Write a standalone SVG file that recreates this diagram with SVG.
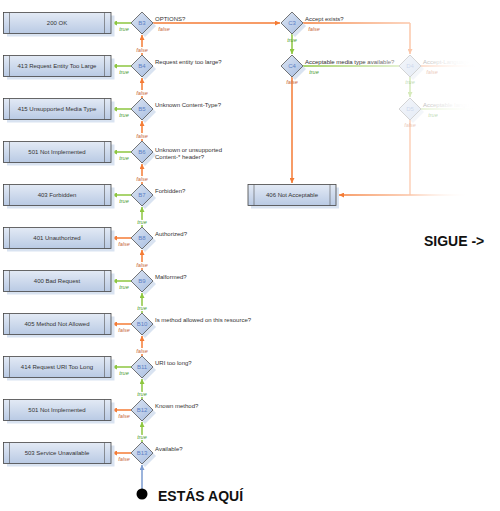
<svg xmlns="http://www.w3.org/2000/svg" width="500" height="511" viewBox="0 0 500 511">
<defs>
<style>
.bx{fill:url(#boxg);stroke:#444;stroke-width:0.8}
.sh{fill:#d9e3f1}
.in{stroke:#555;stroke-width:0.6}
.dm{fill:url(#dmg);stroke:#555;stroke-width:0.8}
.bt{font-family:"Liberation Sans",Arial,sans-serif;font-size:6px;fill:#333;text-anchor:middle}
.q{font-family:"Liberation Sans",Arial,sans-serif;font-size:6px;fill:#333}
.id{font-family:"Liberation Sans",Arial,sans-serif;font-size:6px;fill:#5b7fc4;text-anchor:middle}
.t{font-family:"Liberation Sans",Arial,sans-serif;font-style:italic;font-size:5.5px;fill:#4a9a2a;text-anchor:middle}
.f{font-family:"Liberation Sans",Arial,sans-serif;font-style:italic;font-size:5.5px;fill:#c8693a;text-anchor:middle}
.h{paint-order:stroke;stroke:#fff;stroke-width:2}
.g{stroke:#8dc63f;stroke-width:1.5;fill:none}
.o{stroke:#f47b35;stroke-width:1.5;fill:none}
.big{font-family:"Liberation Sans",Arial,sans-serif;font-weight:bold;font-size:14px;fill:#111}
</style>
<linearGradient id="boxg" x1="0" y1="0" x2="0" y2="1">
<stop offset="0" stop-color="#e3eaf5"/><stop offset="1" stop-color="#b9cae4"/>
</linearGradient>
<linearGradient id="dmg" x1="0" y1="0" x2="1" y2="1">
<stop offset="0" stop-color="#dde6f4"/><stop offset="1" stop-color="#a6bce0"/>
</linearGradient>
<linearGradient id="oC3" gradientUnits="userSpaceOnUse" x1="303" y1="0" x2="410" y2="0">
<stop offset="0" stop-color="#f47b35"/><stop offset="1" stop-color="#fbc7aa"/>
</linearGradient>
<linearGradient id="gC4" gradientUnits="userSpaceOnUse" x1="303" y1="0" x2="400" y2="0">
<stop offset="0" stop-color="#8dc63f"/><stop offset="1" stop-color="#dcedc4"/>
</linearGradient>
<linearGradient id="oFade" gradientUnits="userSpaceOnUse" x1="420" y1="0" x2="480" y2="0">
<stop offset="0" stop-color="#fcd3bd"/><stop offset="1" stop-color="#fff" stop-opacity="0"/>
</linearGradient>
<linearGradient id="gFade" gradientUnits="userSpaceOnUse" x1="420" y1="0" x2="480" y2="0">
<stop offset="0" stop-color="#e1f0cd"/><stop offset="1" stop-color="#fff" stop-opacity="0"/>
</linearGradient>
<linearGradient id="o406" gradientUnits="userSpaceOnUse" x1="337" y1="0" x2="470" y2="0">
<stop offset="0" stop-color="#f47b35"/><stop offset="0.55" stop-color="#fbc4a6"/><stop offset="1" stop-color="#fff" stop-opacity="0"/>
</linearGradient>
<linearGradient id="txtFade" gradientUnits="userSpaceOnUse" x1="423" y1="0" x2="475" y2="0">
<stop offset="0" stop-color="#bbb"/><stop offset="1" stop-color="#fff" stop-opacity="0"/>
</linearGradient>
<linearGradient id="txtC4" gradientUnits="userSpaceOnUse" x1="355" y1="0" x2="400" y2="0">
<stop offset="0" stop-color="#333"/><stop offset="1" stop-color="#999"/>
</linearGradient>
<marker id="ag" viewBox="0 0 8 8" refX="8" refY="4" markerWidth="5" markerHeight="5" markerUnits="userSpaceOnUse" orient="auto"><path d="M0,0L8,4L0,8z" fill="#8dc63f"/></marker>
<marker id="ao" viewBox="0 0 8 8" refX="8" refY="4" markerWidth="5" markerHeight="5" markerUnits="userSpaceOnUse" orient="auto"><path d="M0,0L8,4L0,8z" fill="#f47b35"/></marker>
<marker id="ab" viewBox="0 0 8 8" refX="8" refY="4" markerWidth="5" markerHeight="5" markerUnits="userSpaceOnUse" orient="auto"><path d="M0,0L8,4L0,8z" fill="#7b9bd1"/></marker>
<marker id="aop" viewBox="0 0 8 8" refX="8" refY="4" markerWidth="5" markerHeight="5" markerUnits="userSpaceOnUse" orient="auto"><path d="M0,0L8,4L0,8z" fill="#fbc7aa"/></marker>
<marker id="agp" viewBox="0 0 8 8" refX="8" refY="4" markerWidth="5" markerHeight="5" markerUnits="userSpaceOnUse" orient="auto"><path d="M0,0L8,4L0,8z" fill="#d6eabb"/></marker>
</defs>
<rect width="500" height="511" fill="#fff"/>

<g id="connectors">
<line class="g" x1="131" y1="23" x2="112" y2="23" marker-end="url(#ag)"/>
<line class="g" x1="131" y1="66" x2="112" y2="66" marker-end="url(#ag)"/>
<line class="g" x1="131" y1="109" x2="112" y2="109" marker-end="url(#ag)"/>
<line class="g" x1="131" y1="152" x2="112" y2="152" marker-end="url(#ag)"/>
<line class="g" x1="131" y1="195" x2="112" y2="195" marker-end="url(#ag)"/>
<line class="o" x1="131" y1="238" x2="112" y2="238" marker-end="url(#ao)"/>
<line class="g" x1="131" y1="281" x2="112" y2="281" marker-end="url(#ag)"/>
<line class="o" x1="131" y1="324" x2="112" y2="324" marker-end="url(#ao)"/>
<line class="g" x1="131" y1="367" x2="112" y2="367" marker-end="url(#ag)"/>
<line class="o" x1="131" y1="410" x2="112" y2="410" marker-end="url(#ao)"/>
<line class="o" x1="131" y1="453" x2="112" y2="453" marker-end="url(#ao)"/>
<line class="o" x1="142" y1="55" x2="142" y2="35" marker-end="url(#ao)"/>
<line class="o" x1="142" y1="98" x2="142" y2="78" marker-end="url(#ao)"/>
<line class="o" x1="142" y1="141" x2="142" y2="121" marker-end="url(#ao)"/>
<line class="o" x1="142" y1="184" x2="142" y2="164" marker-end="url(#ao)"/>
<line class="g" x1="142" y1="227" x2="142" y2="207" marker-end="url(#ag)"/>
<line class="o" x1="142" y1="270" x2="142" y2="250" marker-end="url(#ao)"/>
<line class="g" x1="142" y1="313" x2="142" y2="293" marker-end="url(#ag)"/>
<line class="o" x1="142" y1="356" x2="142" y2="336" marker-end="url(#ao)"/>
<line class="g" x1="142" y1="399" x2="142" y2="379" marker-end="url(#ag)"/>
<line class="g" x1="142" y1="442" x2="142" y2="422" marker-end="url(#ag)"/>
<line x1="142" y1="489" x2="142" y2="465" stroke="#7b9bd1" stroke-width="1.5" marker-end="url(#ab)"/>
<line class="o" x1="153" y1="23" x2="280" y2="23" marker-end="url(#ao)"/>
<line class="g" x1="292" y1="34" x2="292" y2="54" marker-end="url(#ag)"/>
<line class="o" x1="292" y1="77" x2="292" y2="183" marker-end="url(#ao)"/>
<path d="M303,23H410" stroke="url(#oC3)" stroke-width="1.5" fill="none"/>
<line x1="410" y1="23" x2="410" y2="54" stroke="#fbc7aa" stroke-width="1.5" marker-end="url(#aop)"/>
<path d="M303,66H399" stroke="url(#gC4)" stroke-width="1.5" fill="none"/>
<path d="M421,66H480" stroke="url(#oFade)" stroke-width="1.5" fill="none"/>
<line x1="410" y1="77" x2="410" y2="97" stroke="#d6eabb" stroke-width="1.5" marker-end="url(#agp)"/>
<path d="M421,109H480" stroke="url(#gFade)" stroke-width="1.5" fill="none"/>
<path d="M410,120V195" stroke="#fcd0b8" stroke-width="1.5" fill="none"/>
<path d="M470,195H339" stroke="url(#o406)" stroke-width="1.5" fill="none" marker-end="url(#ao)"/>
</g>

<g id="labels">
<text class="t" x="124" y="30.5">true</text>
<text class="t" x="124" y="73.5">true</text>
<text class="t" x="124" y="116.5">true</text>
<text class="t" x="124" y="159.5">true</text>
<text class="t" x="124" y="202.5">true</text>
<text class="f" x="124" y="245.5">false</text>
<text class="t" x="124" y="288.5">true</text>
<text class="f" x="124" y="331.5">false</text>
<text class="t" x="124" y="374.5">true</text>
<text class="f" x="124" y="417.5">false</text>
<text class="f" x="124" y="460.5">false</text>
<text class="f h" x="142" y="52">false</text>
<text class="f h" x="142" y="95">false</text>
<text class="f h" x="142" y="138">false</text>
<text class="f h" x="142" y="181">false</text>
<text class="t h" x="142" y="224">true</text>
<text class="f h" x="142" y="267">false</text>
<text class="t h" x="142" y="310">true</text>
<text class="f h" x="142" y="353">false</text>
<text class="t h" x="142" y="396">true</text>
<text class="t h" x="142" y="439">true</text>
<text class="f" x="164" y="30.5">false</text>
<text class="f" x="314" y="30.5">false</text>
<text class="t" x="292" y="41.5">true</text>
<text class="t" x="314" y="73.5">true</text>
<text class="f" x="292" y="84">false</text>
<g opacity="0.35">
<text class="f" x="432" y="73.5">false</text>
<text class="t" x="410" y="84">true</text>
<text class="t" x="433" y="116.5">true</text>
<text class="f" x="410" y="127">false</text>
</g>
</g>

<g id="n200"><rect class="sh" x="7" y="15.5" width="107.5" height="21"/><rect class="bx" x="3.5" y="12.5" width="107.5" height="21"/><line class="in" x1="9.5" y1="12.5" x2="9.5" y2="33.5"/><line class="in" x1="104.5" y1="12.5" x2="104.5" y2="33.5"/><text class="bt" x="57" y="25">200 OK</text></g>
<g id="n413"><rect class="sh" x="7" y="58.5" width="107.5" height="21"/><rect class="bx" x="3.5" y="55.5" width="107.5" height="21"/><line class="in" x1="9.5" y1="55.5" x2="9.5" y2="76.5"/><line class="in" x1="104.5" y1="55.5" x2="104.5" y2="76.5"/><text class="bt" x="57" y="68">413 Request Entity Too Large</text></g>
<g id="n415"><rect class="sh" x="7" y="101.5" width="107.5" height="21"/><rect class="bx" x="3.5" y="98.5" width="107.5" height="21"/><line class="in" x1="9.5" y1="98.5" x2="9.5" y2="119.5"/><line class="in" x1="104.5" y1="98.5" x2="104.5" y2="119.5"/><text class="bt" x="57" y="111">415 Unsupported Media Type</text></g>
<g id="n501a"><rect class="sh" x="7" y="144.5" width="107.5" height="21"/><rect class="bx" x="3.5" y="141.5" width="107.5" height="21"/><line class="in" x1="9.5" y1="141.5" x2="9.5" y2="162.5"/><line class="in" x1="104.5" y1="141.5" x2="104.5" y2="162.5"/><text class="bt" x="57" y="154">501 Not Implemented</text></g>
<g id="n403"><rect class="sh" x="7" y="187.5" width="107.5" height="21"/><rect class="bx" x="3.5" y="184.5" width="107.5" height="21"/><line class="in" x1="9.5" y1="184.5" x2="9.5" y2="205.5"/><line class="in" x1="104.5" y1="184.5" x2="104.5" y2="205.5"/><text class="bt" x="57" y="197">403 Forbidden</text></g>
<g id="n401"><rect class="sh" x="7" y="230.5" width="107.5" height="21"/><rect class="bx" x="3.5" y="227.5" width="107.5" height="21"/><line class="in" x1="9.5" y1="227.5" x2="9.5" y2="248.5"/><line class="in" x1="104.5" y1="227.5" x2="104.5" y2="248.5"/><text class="bt" x="57" y="240">401 Unauthorized</text></g>
<g id="n400"><rect class="sh" x="7" y="273.5" width="107.5" height="21"/><rect class="bx" x="3.5" y="270.5" width="107.5" height="21"/><line class="in" x1="9.5" y1="270.5" x2="9.5" y2="291.5"/><line class="in" x1="104.5" y1="270.5" x2="104.5" y2="291.5"/><text class="bt" x="57" y="283">400 Bad Request</text></g>
<g id="n405"><rect class="sh" x="7" y="316.5" width="107.5" height="21"/><rect class="bx" x="3.5" y="313.5" width="107.5" height="21"/><line class="in" x1="9.5" y1="313.5" x2="9.5" y2="334.5"/><line class="in" x1="104.5" y1="313.5" x2="104.5" y2="334.5"/><text class="bt" x="57" y="326">405 Method Not Allowed</text></g>
<g id="n414"><rect class="sh" x="7" y="359.5" width="107.5" height="21"/><rect class="bx" x="3.5" y="356.5" width="107.5" height="21"/><line class="in" x1="9.5" y1="356.5" x2="9.5" y2="377.5"/><line class="in" x1="104.5" y1="356.5" x2="104.5" y2="377.5"/><text class="bt" x="57" y="369">414 Request URI Too Long</text></g>
<g id="n501b"><rect class="sh" x="7" y="402.5" width="107.5" height="21"/><rect class="bx" x="3.5" y="399.5" width="107.5" height="21"/><line class="in" x1="9.5" y1="399.5" x2="9.5" y2="420.5"/><line class="in" x1="104.5" y1="399.5" x2="104.5" y2="420.5"/><text class="bt" x="57" y="412">501 Not Implemented</text></g>
<g id="n503"><rect class="sh" x="7" y="445.5" width="107.5" height="21"/><rect class="bx" x="3.5" y="442.5" width="107.5" height="21"/><line class="in" x1="9.5" y1="442.5" x2="9.5" y2="463.5"/><line class="in" x1="104.5" y1="442.5" x2="104.5" y2="463.5"/><text class="bt" x="57" y="455">503 Service Unavailable</text></g>
<g id="n406"><rect class="sh" x="251" y="187.5" width="88" height="21"/><rect class="bx" x="248" y="184.5" width="88" height="21"/><line class="in" x1="254" y1="184.5" x2="254" y2="205.5"/><line class="in" x1="330" y1="184.5" x2="330" y2="205.5"/><text class="bt" x="292" y="197">406 Not Acceptable</text></g>

<g id="B3"><polygon class="sh" points="145,15 156,26 145,37 134,26"/><polygon class="dm" points="142,12 153,23 142,34 131,23"/><text class="id" x="142" y="25">B3</text><text class="q" x="155" y="21">OPTIONS?</text></g>
<g id="B4"><polygon class="sh" points="145,58 156,69 145,80 134,69"/><polygon class="dm" points="142,55 153,66 142,77 131,66"/><text class="id" x="142" y="68">B4</text><text class="q" x="155" y="64">Request entity too large?</text></g>
<g id="B5"><polygon class="sh" points="145,101 156,112 145,123 134,112"/><polygon class="dm" points="142,98 153,109 142,120 131,109"/><text class="id" x="142" y="111">B5</text><text class="q" x="155" y="107">Unknown Content-Type?</text></g>
<g id="B6"><polygon class="sh" points="145,144 156,155 145,166 134,155"/><polygon class="dm" points="142,141 153,152 142,163 131,152"/><text class="id" x="142" y="154">B6</text><text class="q" x="155" y="151.5">Unknown or unsupported</text><text class="q" x="155" y="158.5">Content-* header?</text></g>
<g id="B7"><polygon class="sh" points="145,187 156,198 145,209 134,198"/><polygon class="dm" points="142,184 153,195 142,206 131,195"/><text class="id" x="142" y="197">B7</text><text class="q" x="155" y="193">Forbidden?</text></g>
<g id="B8"><polygon class="sh" points="145,230 156,241 145,252 134,241"/><polygon class="dm" points="142,227 153,238 142,249 131,238"/><text class="id" x="142" y="240">B8</text><text class="q" x="155" y="236">Authorized?</text></g>
<g id="B9"><polygon class="sh" points="145,273 156,284 145,295 134,284"/><polygon class="dm" points="142,270 153,281 142,292 131,281"/><text class="id" x="142" y="283">B9</text><text class="q" x="155" y="279">Malformed?</text></g>
<g id="B10"><polygon class="sh" points="145,316 156,327 145,338 134,327"/><polygon class="dm" points="142,313 153,324 142,335 131,324"/><text class="id" x="142" y="326">B10</text><text class="q" x="155" y="322">Is method allowed on this resource?</text></g>
<g id="B11"><polygon class="sh" points="145,359 156,370 145,381 134,370"/><polygon class="dm" points="142,356 153,367 142,378 131,367"/><text class="id" x="142" y="369">B11</text><text class="q" x="155" y="365">URI too long?</text></g>
<g id="B12"><polygon class="sh" points="145,402 156,413 145,424 134,413"/><polygon class="dm" points="142,399 153,410 142,421 131,410"/><text class="id" x="142" y="412">B12</text><text class="q" x="155" y="408">Known method?</text></g>
<g id="B13"><polygon class="sh" points="145,445 156,456 145,467 134,456"/><polygon class="dm" points="142,442 153,453 142,464 131,453"/><text class="id" x="142" y="455">B13</text><text class="q" x="155" y="451">Available?</text></g>

<g id="C3"><polygon class="sh" points="295,15 306,26 295,37 284,26"/><polygon class="dm" points="292,12 303,23 292,34 281,23"/><text class="id" x="292" y="25">C3</text><text class="q" x="305" y="21">Accept exists?</text></g>
<g id="C4"><polygon class="sh" points="295,58 306,69 295,80 284,69"/><polygon class="dm" points="292,55 303,66 292,77 281,66"/><text class="id" x="292" y="68">C4</text><text class="q" x="305" y="64" style="fill:url(#txtC4)">Acceptable media type available?</text></g>
<g id="D4"><g opacity="0.3"><polygon class="sh" points="413,58 424,69 413,80 402,69"/><polygon class="dm" points="410,55 421,66 410,77 399,66"/><text class="id" x="410" y="68">D4</text></g>
<text x="423" y="64" style="font-family:'Liberation Sans',Arial,sans-serif;font-size:6px;fill:url(#txtFade)">Accept-Language exists?</text></g>
<g id="D5"><g opacity="0.3"><polygon class="sh" points="413,101 424,112 413,123 402,112"/><polygon class="dm" points="410,98 421,109 410,120 399,109"/><text class="id" x="410" y="111">D5</text></g>
<text x="423" y="107" style="font-family:'Liberation Sans',Arial,sans-serif;font-size:6px;fill:url(#txtFade)">Acceptable language?</text></g>

<g id="start"><circle cx="142" cy="494" r="5.5" fill="#000"/><text class="big" x="158" y="501">ESTÁS AQUÍ</text></g>
<text class="big" x="424" y="246">SIGUE -&gt;</text>
</svg>
